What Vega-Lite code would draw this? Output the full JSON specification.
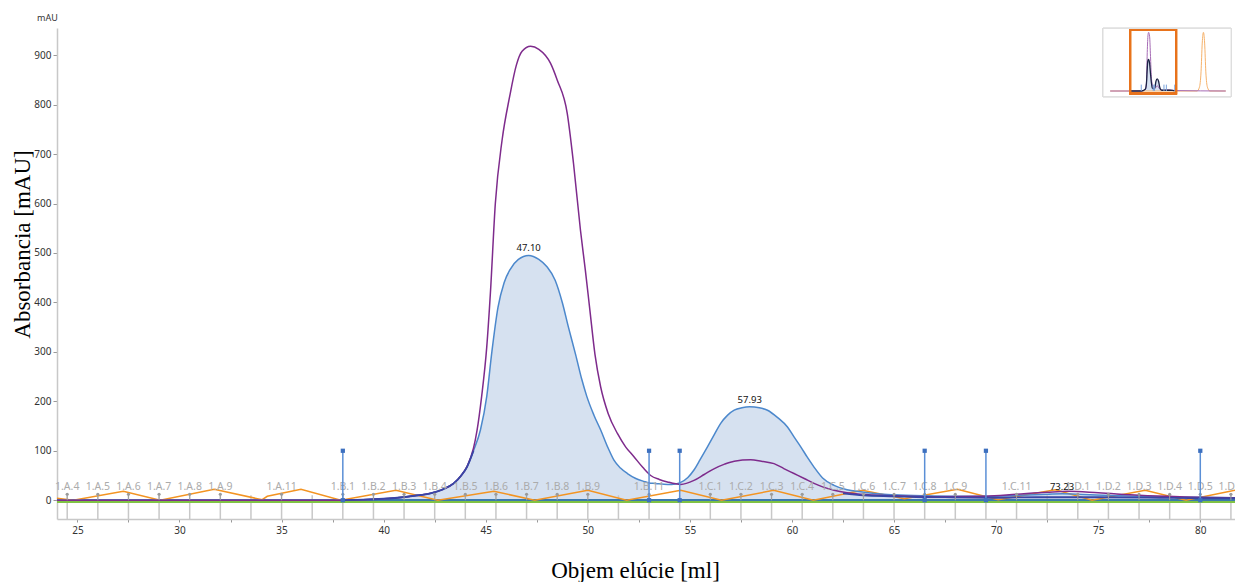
{
  "$schema": "https://vega.github.io/schema/vega-lite/v6.json",
  "width": 1178,
  "height": 491,
  "autosize": "none",
  "padding": {"left": 57, "top": 28, "right": 0, "bottom": 63},
  "background": "white",
  "title": {"text": "mAU", "anchor": "start", "frame": "group", "fontSize": 9, "font": "Noto Sans", "fontWeight": "normal", "color": "#333", "offset": 5, "dx": -20},
  "config": {
    "view": {"stroke": null},
    "axis": {"grid": false, "labelFont": "Noto Sans", "labelFontSize": 10, "labelColor": "#333", "domainColor": "#c8c8c8", "domainWidth": 1.5, "tickColor": "#999", "titleFont": "Liberation Serif", "titleFontSize": 23, "titleFontWeight": "normal", "titleColor": "#000"}
  },
  "datasets": {
    "uv": [
      {"ml":24,"v":0},{"ml":26,"v":0},{"ml":28,"v":0},{"ml":30,"v":0},{"ml":32,"v":0},{"ml":34,"v":0},{"ml":36,"v":0},{"ml":38,"v":0},{"ml":39,"v":1},{"ml":40,"v":3},{"ml":40.67,"v":5},{"ml":41.5,"v":9},{"ml":42.3,"v":14},{"ml":42.9,"v":22},{"ml":43.43,"v":34},{"ml":43.8,"v":50},{"ml":44.08,"v":67},{"ml":44.4,"v":100},{"ml":44.74,"v":142},{"ml":45.05,"v":210},{"ml":45.3,"v":300},{"ml":45.6,"v":390},{"ml":45.9,"v":440},{"ml":46.2,"v":467},{"ml":46.6,"v":487},{"ml":47.1,"v":495},{"ml":47.6,"v":487},{"ml":48.0,"v":472},{"ml":48.4,"v":445},{"ml":48.75,"v":400},{"ml":49.05,"v":350},{"ml":49.4,"v":295},{"ml":49.7,"v":245},{"ml":49.95,"v":210},{"ml":50.3,"v":172},{"ml":50.63,"v":142},{"ml":51.0,"v":105},{"ml":51.28,"v":81},{"ml":51.6,"v":65},{"ml":51.94,"v":54},{"ml":52.35,"v":44},{"ml":52.75,"v":38},{"ml":53,"v":35},{"ml":53.3,"v":34},{"ml":53.9,"v":32},{"ml":54.3,"v":33},{"ml":54.5,"v":35},{"ml":54.9,"v":46},{"ml":55.2,"v":61},{"ml":55.5,"v":82},{"ml":55.86,"v":108},{"ml":56.2,"v":133},{"ml":56.5,"v":155},{"ml":56.85,"v":172},{"ml":57.17,"v":182},{"ml":57.55,"v":187},{"ml":57.93,"v":189},{"ml":58.4,"v":187},{"ml":58.8,"v":182},{"ml":59.3,"v":167},{"ml":59.78,"v":148},{"ml":60.1,"v":128},{"ml":60.43,"v":108},{"ml":60.75,"v":87},{"ml":61.08,"v":67},{"ml":61.5,"v":45},{"ml":62.06,"v":30},{"ml":62.7,"v":21},{"ml":63.37,"v":17},{"ml":64.2,"v":13},{"ml":65,"v":11},{"ml":66.5,"v":9},{"ml":68,"v":8},{"ml":69.5,"v":8},{"ml":71,"v":10},{"ml":72.5,"v":12},{"ml":73.23,"v":13},{"ml":74,"v":12},{"ml":76,"v":9},{"ml":78,"v":7},{"ml":80,"v":6},{"ml":81.7,"v":5}
    ],
    "uv2": [
      {"ml":24,"v":0},{"ml":30,"v":0},{"ml":36,"v":0},{"ml":38,"v":0},{"ml":39,"v":1},{"ml":40,"v":3},{"ml":40.67,"v":5},{"ml":41.5,"v":9},{"ml":42.3,"v":14},{"ml":42.9,"v":22},{"ml":43.43,"v":34},{"ml":43.8,"v":50},{"ml":44.08,"v":68},{"ml":44.4,"v":105},{"ml":44.57,"v":140},{"ml":44.8,"v":210},{"ml":45.05,"v":310},{"ml":45.23,"v":420},{"ml":45.47,"v":600},{"ml":45.8,"v":728},{"ml":46.17,"v":816},{"ml":46.5,"v":880},{"ml":46.78,"v":908},{"ml":47.2,"v":918},{"ml":47.6,"v":912},{"ml":48.17,"v":884},{"ml":48.5,"v":850},{"ml":48.99,"v":783},{"ml":49.3,"v":681},{"ml":49.64,"v":546},{"ml":49.88,"v":465},{"ml":50.1,"v":385},{"ml":50.35,"v":295},{"ml":50.63,"v":229},{"ml":51.0,"v":175},{"ml":51.45,"v":135},{"ml":51.85,"v":108},{"ml":52.26,"v":88},{"ml":52.7,"v":66},{"ml":53.08,"v":50},{"ml":53.5,"v":42},{"ml":53.9,"v":37},{"ml":54.55,"v":32},{"ml":55.2,"v":40},{"ml":55.7,"v":52},{"ml":56.2,"v":64},{"ml":56.7,"v":73},{"ml":57.17,"v":79},{"ml":57.98,"v":82},{"ml":58.5,"v":79},{"ml":59.12,"v":74},{"ml":59.6,"v":64},{"ml":60.1,"v":54},{"ml":60.6,"v":44},{"ml":61.08,"v":34},{"ml":61.5,"v":27},{"ml":62.06,"v":20},{"ml":62.7,"v":15},{"ml":63.37,"v":12},{"ml":65,"v":9},{"ml":67,"v":7},{"ml":69.5,"v":8},{"ml":71,"v":12},{"ml":72.5,"v":16},{"ml":73.5,"v":18},{"ml":75,"v":15},{"ml":77,"v":10},{"ml":79,"v":7},{"ml":81.7,"v":5}
    ],
    "navy": [
      {"ml":38,"v":0,"seg":"a"},{"ml":39,"v":1,"seg":"a"},{"ml":40,"v":3,"seg":"a"},{"ml":40.67,"v":5,"seg":"a"},{"ml":41.5,"v":9,"seg":"a"},{"ml":42.3,"v":14,"seg":"a"},{"ml":42.9,"v":22,"seg":"a"},{"ml":43.43,"v":34,"seg":"a"},{"ml":43.8,"v":50,"seg":"a"},{"ml":44.08,"v":67,"seg":"a"},{"ml":44.4,"v":100,"seg":"a"},
      {"ml":62.5,"v":14,"seg":"b"},{"ml":63.5,"v":10,"seg":"b"},{"ml":65,"v":8,"seg":"b"},{"ml":66.5,"v":6,"seg":"b"},{"ml":68,"v":5.5,"seg":"b"},{"ml":69.5,"v":5,"seg":"b"},{"ml":72,"v":6,"seg":"b"},{"ml":75,"v":6,"seg":"b"},{"ml":78,"v":5,"seg":"b"},{"ml":80,"v":4,"seg":"b"},{"ml":81.7,"v":4,"seg":"b"}
    ],
    "cond": [
      {"ml":24,"v":4},{"ml":24.8,"v":0},{"ml":27.25,"v":18},{"ml":29.05,"v":0},{"ml":31.7,"v":22},{"ml":34.05,"v":1},{"ml":34.3,"v":8},{"ml":35.95,"v":22},{"ml":37.9,"v":0},{"ml":40.6,"v":20},{"ml":42.65,"v":0},{"ml":45.4,"v":18},{"ml":47.4,"v":0},{"ml":50.0,"v":20},{"ml":51.9,"v":0},{"ml":54.55,"v":20},{"ml":56.55,"v":0},{"ml":59.1,"v":20},{"ml":61.05,"v":0},{"ml":63.45,"v":20},{"ml":65.5,"v":3},{"ml":68.1,"v":22},{"ml":70.1,"v":1},{"ml":72.9,"v":21},{"ml":74.7,"v":0},{"ml":77.3,"v":20},{"ml":79.3,"v":0},{"ml":81.7,"v":20}
    ],
    "fractions": [
      {"ml":24.5,"label":"1.A.4"},{"ml":26,"label":"1.A.5"},{"ml":27.5,"label":"1.A.6"},{"ml":29,"label":"1.A.7"},{"ml":30.5,"label":"1.A.8"},{"ml":32,"label":"1.A.9"},{"ml":33.5,"label":""},{"ml":35,"label":"1.A.11"},{"ml":36.5,"label":""},{"ml":38,"label":"1.B.1"},{"ml":39.5,"label":"1.B.2"},{"ml":41,"label":"1.B.3"},{"ml":42.5,"label":"1.B.4"},{"ml":44,"label":"1.B.5"},{"ml":45.5,"label":"1.B.6"},{"ml":47,"label":"1.B.7"},{"ml":48.5,"label":"1.B.8"},{"ml":50,"label":"1.B.9"},{"ml":51.5,"label":""},{"ml":53,"label":"1.B.11"},{"ml":54.5,"label":""},{"ml":56,"label":"1.C.1"},{"ml":57.5,"label":"1.C.2"},{"ml":59,"label":"1.C.3"},{"ml":60.5,"label":"1.C.4"},{"ml":62,"label":"1.C.5"},{"ml":63.5,"label":"1.C.6"},{"ml":65,"label":"1.C.7"},{"ml":66.5,"label":"1.C.8"},{"ml":68,"label":"1.C.9"},{"ml":69.5,"label":""},{"ml":71,"label":"1.C.11"},{"ml":72.5,"label":""},{"ml":74,"label":"1.D.1"},{"ml":75.5,"label":"1.D.2"},{"ml":77,"label":"1.D.3"},{"ml":78.5,"label":"1.D.4"},{"ml":80,"label":"1.D.5"},{"ml":81.5,"label":"1.D.6"}
    ],
    "markers": [{"ml":38},{"ml":53},{"ml":54.5},{"ml":66.5},{"ml":69.5},{"ml":80}],
    "peaks": [{"ml":47.1,"v":495,"t":"47.10"},{"ml":57.93,"v":189,"t":"57.93"},{"ml":73.23,"v":13,"t":"73.23"}],
    "mini": [
      {"ml":-1,"v":0,"s":"p"},{"ml":38,"v":0,"s":"p"},{"ml":43,"v":25,"s":"p"},{"ml":44.5,"v":120,"s":"p"},{"ml":45.5,"v":600,"s":"p"},{"ml":46.5,"v":880,"s":"p"},{"ml":47.2,"v":918,"s":"p"},{"ml":48.5,"v":850,"s":"p"},{"ml":49.6,"v":540,"s":"p"},{"ml":50.6,"v":230,"s":"p"},{"ml":52,"v":95,"s":"p"},{"ml":54.5,"v":32,"s":"p"},{"ml":58,"v":82,"s":"p"},{"ml":61,"v":34,"s":"p"},{"ml":64,"v":12,"s":"p"},{"ml":73,"v":18,"s":"p"},{"ml":80,"v":7,"s":"p"},{"ml":144,"v":0,"s":"p"},
      {"ml":24,"v":0,"s":"b"},{"ml":38,"v":0,"s":"b"},{"ml":43,"v":27,"s":"b"},{"ml":44.5,"v":120,"s":"b"},{"ml":45.3,"v":300,"s":"b"},{"ml":46.2,"v":467,"s":"b"},{"ml":47.1,"v":495,"s":"b"},{"ml":48.4,"v":440,"s":"b"},{"ml":49.4,"v":300,"s":"b"},{"ml":50.6,"v":142,"s":"b"},{"ml":52,"v":45,"s":"b"},{"ml":54,"v":32,"s":"b"},{"ml":55.2,"v":61,"s":"b"},{"ml":56.5,"v":155,"s":"b"},{"ml":57.93,"v":189,"s":"b"},{"ml":59.8,"v":148,"s":"b"},{"ml":61,"v":70,"s":"b"},{"ml":62,"v":30,"s":"b"},{"ml":64,"v":12,"s":"b"},{"ml":73,"v":12,"s":"b"},{"ml":80,"v":5,"s":"b"},{"ml":82,"v":4,"s":"b"},
      {"ml":-1,"v":0,"s":"o"},{"ml":108,"v":0,"s":"o"},{"ml":111,"v":60,"s":"o"},{"ml":113,"v":300,"s":"o"},{"ml":114.5,"v":750,"s":"o"},{"ml":116,"v":918,"s":"o"},{"ml":117.5,"v":750,"s":"o"},{"ml":119,"v":300,"s":"o"},{"ml":121,"v":60,"s":"o"},{"ml":124,"v":0,"s":"o"},{"ml":144,"v":0,"s":"o"}
    ]
  },
  "layer": [
    {
      "layer": [
        {
          "data": {"name": "uv"},
          "transform": [{"filter": "datum.ml >= 38 && datum.ml <= 53"}],
          "mark": {"type": "area", "color": "#d6e1f0", "opacity": 1, "interpolate": "monotone"},
          "encoding": {
            "x": {"field": "ml", "type": "quantitative", "scale": {"domain": [24, 81.7], "nice": false, "zero": false},
              "axis": {"title": "Objem elúcie [ml]", "values": [25,27.5,30,32.5,35,37.5,40,42.5,45,47.5,50,52.5,55,57.5,60,62.5,65,67.5,70,72.5,75,77.5,80], "labelExpr": "datum.value % 5 === 0 ? datum.label : ''", "tickSize": 3, "labelPadding": 3, "titleX": 578, "titleY": 58, "titleBaseline": "alphabetic", "titleAlign": "center"}},
            "y": {"field": "v", "type": "quantitative", "scale": {"domain": [-38, 955], "nice": false, "zero": false},
              "axis": {"title": "Absorbancia [mAU]", "values": [0,50,100,150,200,250,300,350,400,450,500,550,600,650,700,750,800,850,900,950], "labelExpr": "datum.value % 100 === 0 ? datum.label : ''", "tickSize": 4, "labelPadding": 2, "titleX": -28, "titleY": 216, "titleBaseline": "alphabetic", "titleAlign": "center", "titleAngle": -90}},
            "y2": {"datum": 0}
          }
        },
        {
          "data": {"name": "uv"},
          "transform": [{"filter": "datum.ml >= 54.5 && datum.ml <= 66.5"}],
          "mark": {"type": "area", "color": "#d6e1f0", "opacity": 1, "interpolate": "monotone"},
          "encoding": {"x": {"field": "ml", "type": "quantitative"}, "y": {"field": "v", "type": "quantitative"}, "y2": {"datum": 0}}
        },
        {
          "data": {"name": "uv"},
          "transform": [{"filter": "datum.ml >= 69.5 && datum.ml <= 80"}],
          "mark": {"type": "area", "color": "#d6e1f0", "opacity": 1, "interpolate": "monotone"},
          "encoding": {"x": {"field": "ml", "type": "quantitative"}, "y": {"field": "v", "type": "quantitative"}, "y2": {"datum": 0}}
        },
        {
          "data": {"name": "fractions"},
          "mark": {"type": "rule", "color": "#c8c8c8", "strokeWidth": 1.5},
          "encoding": {"x": {"field": "ml", "type": "quantitative"}, "y": {"datum": 10}, "y2": {"datum": -38}}
        },
        {
          "data": {"name": "fractions"},
          "mark": {"type": "rule", "color": "#7fc244", "strokeWidth": 2},
          "encoding": {"y": {"datum": -3}}
        },
        {
          "data": {"name": "fractions"},
          "mark": {"type": "rule", "color": "#3a78ad", "strokeWidth": 1.5},
          "encoding": {"y": {"datum": 0}}
        },
        {
          "data": {"name": "cond"},
          "mark": {"type": "line", "color": "#f39422", "strokeWidth": 1.5},
          "encoding": {"x": {"field": "ml", "type": "quantitative"}, "y": {"field": "v", "type": "quantitative"}}
        },
        {
          "data": {"name": "uv"},
          "mark": {"type": "line", "color": "#4c88cc", "strokeWidth": 1.5, "interpolate": "monotone"},
          "encoding": {"x": {"field": "ml", "type": "quantitative"}, "y": {"field": "v", "type": "quantitative"}}
        },
        {
          "data": {"name": "uv2"},
          "mark": {"type": "line", "color": "#7e2b8c", "strokeWidth": 1.5, "interpolate": "monotone"},
          "encoding": {"x": {"field": "ml", "type": "quantitative"}, "y": {"field": "v", "type": "quantitative"}}
        },
        {
          "data": {"name": "navy"},
          "mark": {"type": "line", "color": "#3a45a5", "strokeWidth": 1.8, "interpolate": "monotone"},
          "encoding": {"x": {"field": "ml", "type": "quantitative"}, "y": {"field": "v", "type": "quantitative"}, "detail": {"field": "seg"}}
        },
        {
          "data": {"name": "fractions"},
          "transform": [{"filter": "datum.label != ''"}],
          "mark": {"type": "rule", "color": "#a0a0a0", "strokeWidth": 1},
          "encoding": {"x": {"field": "ml", "type": "quantitative"}, "y": {"datum": 12}, "y2": {"datum": 0}}
        },
        {
          "data": {"name": "fractions"},
          "transform": [{"filter": "datum.label != ''"}],
          "mark": {"type": "point", "filled": true, "color": "#9a9a9a", "size": 10, "opacity": 1},
          "encoding": {"x": {"field": "ml", "type": "quantitative"}, "y": {"datum": 12}}
        },
        {
          "data": {"name": "fractions"},
          "mark": {"type": "text", "color": "#ababab", "fontSize": 10.5, "font": "Noto Sans", "baseline": "middle", "align": "center", "dy": -13},
          "encoding": {"x": {"field": "ml", "type": "quantitative"}, "y": {"datum": 0}, "text": {"field": "label"}}
        },
        {
          "data": {"name": "markers"},
          "mark": {"type": "rule", "color": "#5b8fd6", "strokeWidth": 1.5},
          "encoding": {"x": {"field": "ml", "type": "quantitative"}, "y": {"datum": 0}, "y2": {"datum": 100}}
        },
        {
          "data": {"name": "markers"},
          "mark": {"type": "point", "shape": "square", "filled": true, "color": "#3d70bf", "size": 18, "opacity": 1},
          "encoding": {"x": {"field": "ml", "type": "quantitative"}, "y": {"datum": 100}}
        },
        {
          "data": {"name": "markers"},
          "mark": {"type": "point", "shape": "square", "filled": true, "color": "#3d70bf", "size": 18, "opacity": 1},
          "encoding": {"x": {"field": "ml", "type": "quantitative"}, "y": {"datum": 0}}
        },
        {
          "data": {"name": "peaks"},
          "mark": {"type": "text", "color": "#111", "fontSize": 9.5, "font": "Noto Sans", "baseline": "bottom", "align": "center", "dy": -2},
          "encoding": {"x": {"field": "ml", "type": "quantitative"}, "y": {"field": "v", "type": "quantitative"}, "text": {"field": "t"}}
        }
      ]
    },
    {
      "layer": [
        {
          "data": {"name": "markers"},
          "mark": {"type": "rect", "fill": "white", "stroke": "#dcdcdc", "strokeWidth": 1},
          "encoding": {
            "x": {"datum": -10, "type": "quantitative", "scale": {"domain": [-1322.3, 155.6], "nice": false, "zero": false}, "axis": null},
            "x2": {"datum": 150.7},
            "y": {"datum": -89, "type": "quantitative", "scale": {"domain": [-6698, 986], "nice": false, "zero": false}, "axis": null},
            "y2": {"datum": 981}
          }
        },
        {
          "data": {"name": "mini"},
          "transform": [{"filter": "datum.s == 'b' && datum.ml >= 38 && datum.ml <= 80"}],
          "mark": {"type": "area", "color": "#d6e1f0", "interpolate": "monotone"},
          "encoding": {"x": {"field": "ml", "type": "quantitative"}, "y": {"field": "v", "type": "quantitative"}, "y2": {"datum": 0}}
        },
        {
          "data": {"name": "mini"},
          "transform": [{"filter": "datum.s == 'o'"}],
          "mark": {"type": "line", "color": "#f6b26b", "strokeWidth": 1, "interpolate": "monotone"},
          "encoding": {"x": {"field": "ml", "type": "quantitative"}, "y": {"field": "v", "type": "quantitative"}}
        },
        {
          "data": {"name": "mini"},
          "transform": [{"filter": "datum.s == 'p'"}],
          "mark": {"type": "line", "color": "#a66bb5", "strokeWidth": 1, "interpolate": "monotone"},
          "encoding": {"x": {"field": "ml", "type": "quantitative"}, "y": {"field": "v", "type": "quantitative"}}
        },
        {
          "data": {"name": "mini"},
          "transform": [{"filter": "datum.s == 'b'"}],
          "mark": {"type": "line", "color": "#1c2245", "strokeWidth": 1.3, "interpolate": "monotone"},
          "encoding": {"x": {"field": "ml", "type": "quantitative"}, "y": {"field": "v", "type": "quantitative"}}
        },
        {
          "data": {"name": "markers"},
          "mark": {"type": "rule", "color": "#7aa3dc", "strokeWidth": 1},
          "encoding": {"x": {"field": "ml", "type": "quantitative"}, "y": {"datum": 0}, "y2": {"datum": 100}}
        },
        {
          "data": {"name": "markers"},
          "mark": {"type": "rect", "fill": null, "fillOpacity": 0, "stroke": "#e8731c", "strokeWidth": 2},
          "encoding": {"x": {"datum": 24}, "x2": {"datum": 81.7}, "y": {"datum": -38}, "y2": {"datum": 955}}
        }
      ]
    }
  ],
  "resolve": {"scale": {"x": "independent", "y": "independent"}}
}
